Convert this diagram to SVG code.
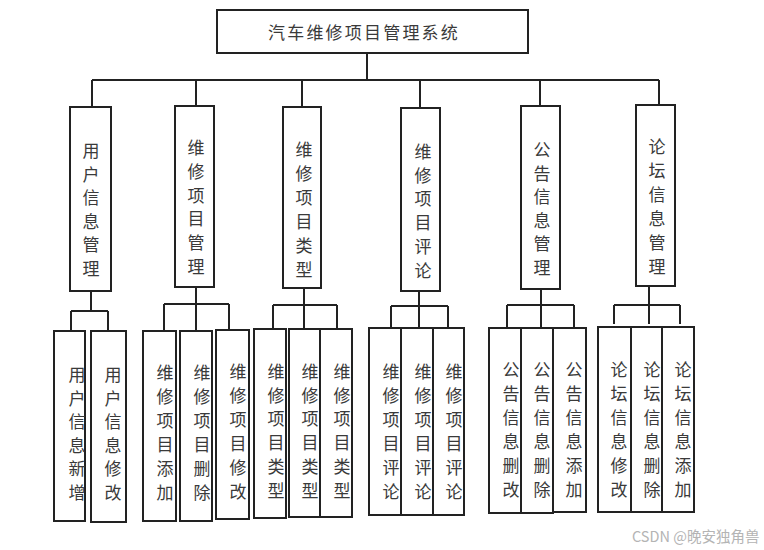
<svg xmlns="http://www.w3.org/2000/svg" width="764" height="550" viewBox="0 0 764 550">
<style>
.b{fill:#fff;stroke:#222;stroke-width:2}
.c{fill:none;stroke:#222;stroke-width:2}
.t{font-family:"Noto Sans CJK SC","Noto Sans CJK JP",sans-serif;font-size:17px;fill:#3a3a3a;text-anchor:middle}
.w{font-family:"Noto Sans CJK SC",sans-serif;font-size:14.5px;fill:#b4b4b4}
</style>
<rect width="764" height="550" fill="#fff"/>
<g id="connectors">
<path class="c" d="M367 53V80M92 80H659M92 80V107M196 80V106M302 80V107M420 80V108M540 80V106M659 80V105"/>
<path class="c" d="M91 291V311M71 311H108M71 311V331M108 311V331"/>
<path class="c" d="M196 287V331M164 304H229M164 304V331M229 304V330"/>
<path class="c" d="M304 288V329M273 305H337M273 305V329M337 305V329"/>
<path class="c" d="M419 291V328M391 306H448M391 306V328M448 306V328"/>
<path class="c" d="M541 289V327M507 305H574M507 305V327M574 305V327"/>
<path class="c" d="M649 286V324M614 305H680M614 305V324M680 305V324"/>
</g>
<g id="root"><rect class="b" x="217" y="10" width="311" height="43"/><text class="t" x="364" y="39" letter-spacing="2.2">汽车维修项目管理系统</text></g>
<g id="n1"><rect class="b" x="70" y="107" width="41" height="184"/><text class="t" x="91" y="157"><tspan x="91">用</tspan><tspan x="91" dy="23.5">户</tspan><tspan x="91" dy="23.5">信</tspan><tspan x="91" dy="23.5">息</tspan><tspan x="91" dy="23.5">管</tspan><tspan x="91" dy="23.5">理</tspan></text></g>
<g id="n2"><rect class="b" x="175" y="106" width="39" height="181"/><text class="t" x="196" y="154"><tspan x="196">维</tspan><tspan x="196" dy="23.8">修</tspan><tspan x="196" dy="23.8">项</tspan><tspan x="196" dy="23.8">目</tspan><tspan x="196" dy="23.8">管</tspan><tspan x="196" dy="23.8">理</tspan></text></g>
<g id="n3"><rect class="b" x="283" y="107" width="38" height="181"/><text class="t" x="304" y="156"><tspan x="304">维</tspan><tspan x="304" dy="24">修</tspan><tspan x="304" dy="24">项</tspan><tspan x="304" dy="24">目</tspan><tspan x="304" dy="24">类</tspan><tspan x="304" dy="24">型</tspan></text></g>
<g id="n4"><rect class="b" x="401" y="108" width="39" height="183"/><text class="t" x="423" y="158"><tspan x="423">维</tspan><tspan x="423" dy="23.7">修</tspan><tspan x="423" dy="23.7">项</tspan><tspan x="423" dy="23.7">目</tspan><tspan x="423" dy="23.7">评</tspan><tspan x="423" dy="23.7">论</tspan></text></g>
<g id="n5"><rect class="b" x="521" y="106" width="39" height="183"/><text class="t" x="542" y="156"><tspan x="542">公</tspan><tspan x="542" dy="23.6">告</tspan><tspan x="542" dy="23.6">信</tspan><tspan x="542" dy="23.6">息</tspan><tspan x="542" dy="23.6">管</tspan><tspan x="542" dy="23.6">理</tspan></text></g>
<g id="n6"><rect class="b" x="636" y="105" width="39" height="181"/><text class="t" x="657" y="153"><tspan x="657">论</tspan><tspan x="657" dy="23.9">坛</tspan><tspan x="657" dy="23.9">信</tspan><tspan x="657" dy="23.9">息</tspan><tspan x="657" dy="23.9">管</tspan><tspan x="657" dy="23.9">理</tspan></text></g>

<g id="l1"><rect class="b" x="54" y="331" width="31" height="190"/><text class="t" y="381"><tspan x="77">用</tspan><tspan x="77" dy="23.6">户</tspan><tspan x="77" dy="23.6">信</tspan><tspan x="77" dy="23.6">息</tspan><tspan x="77" dy="23.6">新</tspan><tspan x="77" dy="23.6">增</tspan></text></g>
<g id="l2"><rect class="b" x="91" y="331" width="35" height="191"/><text class="t" y="381"><tspan x="113">用</tspan><tspan x="113" dy="23.6">户</tspan><tspan x="113" dy="23.6">信</tspan><tspan x="113" dy="23.6">息</tspan><tspan x="113" dy="23.6">修</tspan><tspan x="113" dy="23.6">改</tspan></text></g>
<g id="l3"><rect class="b" x="143" y="331" width="33" height="190"/><text class="t" y="379"><tspan x="165">维</tspan><tspan x="165" dy="23.9">修</tspan><tspan x="165" dy="23.9">项</tspan><tspan x="165" dy="23.9">目</tspan><tspan x="165" dy="23.9">添</tspan><tspan x="165" dy="23.9">加</tspan></text></g>
<g id="l4"><rect class="b" x="180" y="331" width="32" height="190"/><text class="t" y="379"><tspan x="202">维</tspan><tspan x="202" dy="23.9">修</tspan><tspan x="202" dy="23.9">项</tspan><tspan x="202" dy="23.9">目</tspan><tspan x="202" dy="23.9">删</tspan><tspan x="202" dy="23.9">除</tspan></text></g>
<g id="l5"><rect class="b" x="216" y="330" width="33" height="189"/><text class="t" y="378"><tspan x="238">维</tspan><tspan x="238" dy="24">修</tspan><tspan x="238" dy="24">项</tspan><tspan x="238" dy="24">目</tspan><tspan x="238" dy="24">修</tspan><tspan x="238" dy="24">改</tspan></text></g>

<g id="l6"><rect class="b" x="254" y="329" width="32" height="189"/><text class="t" y="378"><tspan x="276">维</tspan><tspan x="276" dy="23.7">修</tspan><tspan x="276" dy="23.7">项</tspan><tspan x="276" dy="23.7">目</tspan><tspan x="276" dy="23.7">类</tspan><tspan x="276" dy="23.7">型</tspan></text></g>
<g id="l7"><rect class="b" x="289" y="329" width="31" height="188"/><text class="t" y="378"><tspan x="310">维</tspan><tspan x="310" dy="23.7">修</tspan><tspan x="310" dy="23.7">项</tspan><tspan x="310" dy="23.7">目</tspan><tspan x="310" dy="23.7">类</tspan><tspan x="310" dy="23.7">型</tspan></text></g>
<g id="l8"><rect class="b" x="320" y="329" width="32" height="188"/><text class="t" y="378"><tspan x="342">维</tspan><tspan x="342" dy="23.7">修</tspan><tspan x="342" dy="23.7">项</tspan><tspan x="342" dy="23.7">目</tspan><tspan x="342" dy="23.7">类</tspan><tspan x="342" dy="23.7">型</tspan></text></g>

<g id="l9"><rect class="b" x="369" y="328" width="32" height="187"/><text class="t" y="378"><tspan x="391">维</tspan><tspan x="391" dy="24">修</tspan><tspan x="391" dy="24">项</tspan><tspan x="391" dy="24">目</tspan><tspan x="391" dy="24">评</tspan><tspan x="391" dy="24">论</tspan></text></g>
<g id="l10"><rect class="b" x="401" y="328" width="32" height="187"/><text class="t" y="378"><tspan x="423">维</tspan><tspan x="423" dy="24">修</tspan><tspan x="423" dy="24">项</tspan><tspan x="423" dy="24">目</tspan><tspan x="423" dy="24">评</tspan><tspan x="423" dy="24">论</tspan></text></g>
<g id="l11"><rect class="b" x="433" y="328" width="31" height="187"/><text class="t" y="378"><tspan x="454">维</tspan><tspan x="454" dy="24">修</tspan><tspan x="454" dy="24">项</tspan><tspan x="454" dy="24">目</tspan><tspan x="454" dy="24">评</tspan><tspan x="454" dy="24">论</tspan></text></g>

<g id="l12"><rect class="b" x="489" y="328" width="32" height="185"/><text class="t" y="376"><tspan x="511">公</tspan><tspan x="511" dy="24">告</tspan><tspan x="511" dy="24">信</tspan><tspan x="511" dy="24">息</tspan><tspan x="511" dy="24">删</tspan><tspan x="511" dy="24">改</tspan></text></g>
<g id="l13"><rect class="b" x="521" y="328" width="32" height="185"/><text class="t" y="376"><tspan x="542">公</tspan><tspan x="542" dy="24">告</tspan><tspan x="542" dy="24">信</tspan><tspan x="542" dy="24">息</tspan><tspan x="542" dy="24">删</tspan><tspan x="542" dy="24">除</tspan></text></g>
<g id="l14"><rect class="b" x="553" y="328" width="33" height="184"/><text class="t" y="376"><tspan x="574">公</tspan><tspan x="574" dy="24">告</tspan><tspan x="574" dy="24">信</tspan><tspan x="574" dy="24">息</tspan><tspan x="574" dy="24">添</tspan><tspan x="574" dy="24">加</tspan></text></g>

<g id="l15"><rect class="b" x="598" y="327" width="33" height="185"/><text class="t" y="376"><tspan x="619">论</tspan><tspan x="619" dy="24">坛</tspan><tspan x="619" dy="24">信</tspan><tspan x="619" dy="24">息</tspan><tspan x="619" dy="24">修</tspan><tspan x="619" dy="24">改</tspan></text></g>
<g id="l16"><rect class="b" x="631" y="327" width="31" height="185"/><text class="t" y="376"><tspan x="652">论</tspan><tspan x="652" dy="24">坛</tspan><tspan x="652" dy="24">信</tspan><tspan x="652" dy="24">息</tspan><tspan x="652" dy="24">删</tspan><tspan x="652" dy="24">除</tspan></text></g>
<g id="l17"><rect class="b" x="662" y="327" width="32" height="185"/><text class="t" y="376"><tspan x="683">论</tspan><tspan x="683" dy="24">坛</tspan><tspan x="683" dy="24">信</tspan><tspan x="683" dy="24">息</tspan><tspan x="683" dy="24">添</tspan><tspan x="683" dy="24">加</tspan></text></g>

<text class="w" x="632" y="542">CSDN @晚安独角兽</text>
</svg>
